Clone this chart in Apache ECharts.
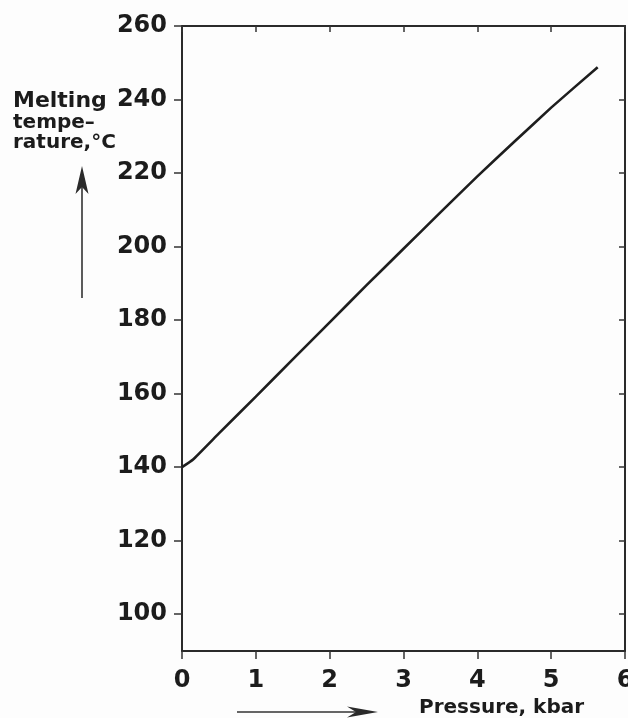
<!DOCTYPE html>
<html>
<head>
<meta charset="utf-8">
<script src="https://cdn.jsdelivr.net/npm/echarts@6/dist/echarts.min.js"></script>
<style>
html,body{margin:0;padding:0;background:#fdfdfd;}
#chart{width:628px;height:718px;}
</style>
</head>
<body>
<div id="chart"></div>
<script>
// Data
const pressure = [0, 0.15, 0.5, 1, 1.5, 2, 2.5, 3, 3.5, 4, 4.5, 5, 5.63];
const meltingTemp = [140, 142.1, 149.2, 159.2, 169.3, 179.4, 189.5, 199.4, 209.3, 219.1, 228.5, 237.8, 248.8];
const yTicks = [100, 120, 140, 160, 180, 200, 220, 240, 260];
const xTicks = [0, 1, 2, 3, 4, 5, 6];

const ink = '#1c1c1c';
const axisLine = { show: true, onZero: false, lineStyle: { color: '#2a2a2a', width: 2 } };
const labelFont = { fontFamily: 'DejaVu Sans', fontWeight: 'bold', fontSize: 24, color: ink };

const chart = echarts.init(document.getElementById('chart'), null, { renderer: 'canvas' });
chart.setOption({
  backgroundColor: '#fdfdfd',
  animation: false,
  grid: { left: 182, right: 3, top: 26, bottom: 67, containLabel: false, outerBoundsMode: 'none' },
  xAxis: [
    {
      type: 'value', min: xTicks[0], max: xTicks[xTicks.length - 1], interval: 1, position: 'bottom',
      axisLine: axisLine,
      axisTick: { show: true, inside: false, length: 8, lineStyle: { color: '#333', width: 1.5 } },
      axisLabel: Object.assign({ margin: 18 }, labelFont),
      splitLine: { show: false }
    },
    {
      type: 'value', min: xTicks[0], max: xTicks[xTicks.length - 1], interval: 1, position: 'top',
      axisLine: axisLine,
      axisTick: { show: true, inside: true, length: 6, lineStyle: { color: '#333', width: 1.5 } },
      axisLabel: { show: false },
      splitLine: { show: false }
    }
  ],
  yAxis: [
    {
      type: 'value', min: 90, max: 260, position: 'left',
      axisLine: axisLine,
      axisTick: { show: true, inside: false, length: 8, customValues: yTicks, lineStyle: { color: '#333', width: 1.5 } },
      axisLabel: Object.assign({ margin: 15, customValues: yTicks }, labelFont),
      splitLine: { show: false }
    },
    {
      type: 'value', min: 90, max: 260, position: 'right',
      axisLine: axisLine,
      axisTick: { show: true, inside: true, length: 6, customValues: yTicks, lineStyle: { color: '#333', width: 1.5 } },
      axisLabel: { show: false },
      splitLine: { show: false }
    }
  ],
  series: [{
    type: 'line',
    xAxisIndex: 0, yAxisIndex: 0,
    data: pressure.map((p, i) => [p, meltingTemp[i]]),
    smooth: 0.12,
    showSymbol: false,
    lineStyle: { color: '#1e1e1e', width: 2.6 }
  }],
  graphic: [
    { type: 'text', left: 13, top: 90, style: { text: 'Melting', font: 'bold 22px "DejaVu Sans"', fill: ink } },
    { type: 'text', left: 13, top: 113, style: { text: 'tempe–', font: 'bold 20px "DejaVu Sans"', fill: ink } },
    { type: 'text', left: 13, top: 133, style: { text: 'rature,°C', font: 'bold 20px "DejaVu Sans"', fill: ink } },
    // vertical arrow
    { type: 'line', shape: { x1: 82, y1: 298, x2: 82, y2: 180 }, style: { stroke: '#333', lineWidth: 1.6 } },
    { type: 'polygon', shape: { points: [[82, 166], [88.5, 194], [82, 187], [75.5, 194]] }, style: { fill: '#2a2a2a' } },
    // horizontal arrow
    { type: 'line', shape: { x1: 237, y1: 712, x2: 365, y2: 712 }, style: { stroke: '#333', lineWidth: 1.6 } },
    { type: 'polygon', shape: { points: [[378, 712], [347, 706.5], [356, 712], [347, 717.5]] }, style: { fill: '#2a2a2a' } },
    { type: 'text', left: 419, top: 698, style: { text: 'Pressure, kbar', font: 'bold 20px "DejaVu Sans"', fill: ink } }
  ]
});
</script>
</body>
</html>
